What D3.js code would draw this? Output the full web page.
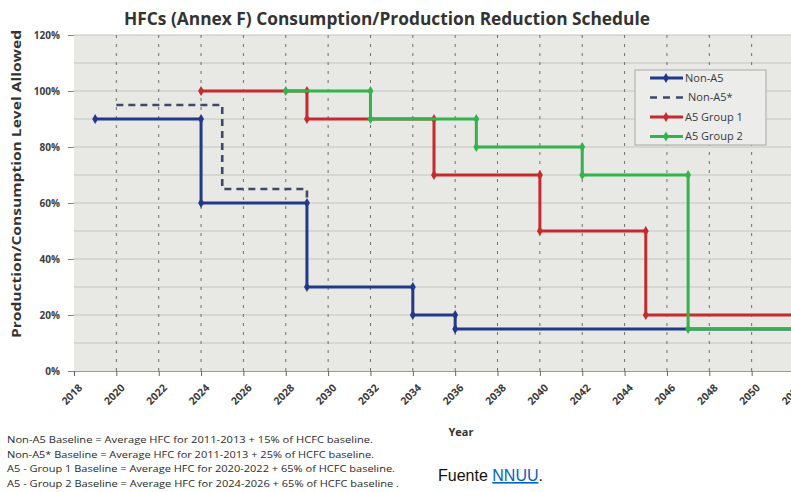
<!DOCTYPE html>
<html>
<head>
<meta charset="utf-8">
<script src="https://cdn.jsdelivr.net/npm/d3@7"></script>
<style>
  html, body { margin: 0; padding: 0; background: #fff; }
  svg { display: block; }
</style>
</head>
<body>
<svg id="chart" width="791" height="492"></svg>
<script>
// ---------- DATA ----------
const chartTitle = "HFCs (Annex F) Consumption/Production Reduction Schedule";
const yAxisTitle = "Production/Consumption Level Allowed";
const xAxisTitle = "Year";
const xTickYears = [2018, 2020, 2022, 2024, 2026, 2028, 2030, 2032, 2034, 2036, 2038, 2040, 2042, 2044, 2046, 2048, 2050, 2052];
const yTickValues = [0, 20, 40, 60, 80, 100, 120];
const yGridValues = [10, 20, 30, 40, 50, 60, 70, 80, 90, 100, 110, 120];

const seriesNames = ["Non-A5", "Non-A5*", "A5 Group 1", "A5 Group 2"];
const nonA5Years   = [2019, 2024, 2024, 2029, 2029, 2034, 2034, 2036, 2036, 2052];
const nonA5Values  = [90, 90, 60, 60, 30, 30, 20, 20, 15, 15];
const nonA5sYears  = [2020, 2025, 2025, 2029, 2029];
const nonA5sValues = [95, 95, 65, 65, 60];
const a5g1Years    = [2024, 2029, 2029, 2035, 2035, 2040, 2040, 2045, 2045, 2052];
const a5g1Values   = [100, 100, 90, 90, 70, 70, 50, 50, 20, 20];
const a5g2Years    = [2028, 2032, 2032, 2037, 2037, 2042, 2042, 2047, 2047, 2052];
const a5g2Values   = [100, 100, 90, 90, 80, 80, 70, 70, 15, 15];

const footnotes = [
  "Non-A5 Baseline =  Average HFC for 2011-2013 + 15% of HCFC baseline.",
  "Non-A5* Baseline = Average HFC for 2011-2013 + 25% of HCFC baseline.",
  "A5  - Group 1 Baseline = Average HFC for 2020-2022 + 65% of HCFC baseline.",
  "A5  - Group 2 Baseline = Average HFC for 2024-2026 + 65% of HCFC baseline ."
];
const footnoteWidths = [366, 367, 388, 392];

// ---------- LAYOUT ----------
const svg = d3.select("#chart");
const W = 791, H = 492;
const plot = { left: 74, right: 794, top: 35, bottom: 371 };
const x = d3.scaleLinear().domain([2018, 2052]).range([plot.left, plot.right]);
const y = d3.scaleLinear().domain([0, 120]).range([plot.bottom, plot.top]);

const series = [
  { name: seriesNames[0], years: nonA5Years,  values: nonA5Values,  color: "#22398a", dash: null, width: 3 },
  { name: seriesNames[1], years: nonA5sYears, values: nonA5sValues, color: "#3f4a68", dash: "7,5", width: 2.6 },
  { name: seriesNames[2], years: a5g1Years,   values: a5g1Values,   color: "#c62a2f", dash: null, width: 3 },
  { name: seriesNames[3], years: a5g2Years,   values: a5g2Values,   color: "#34b24c", dash: null, width: 3 }
];

const font = "'Open Sans', 'Liberation Sans', sans-serif";

// plot background
svg.append("rect")
  .attr("x", plot.left).attr("y", plot.top)
  .attr("width", W - plot.left).attr("height", plot.bottom - plot.top)
  .attr("fill", "#e8e8e5");

// horizontal gridlines
svg.append("g").selectAll("line").data(yGridValues).join("line")
  .attr("x1", plot.left).attr("x2", W)
  .attr("y1", d => y(d)).attr("y2", d => y(d))
  .attr("stroke", "#c4c4c0").attr("stroke-width", 1);

// vertical dotted gridlines
svg.append("g").selectAll("line").data(xTickYears.slice(1)).join("line")
  .attr("x1", d => x(d)).attr("x2", d => x(d))
  .attr("y1", plot.top).attr("y2", plot.bottom)
  .attr("stroke", "#6e6e6e").attr("stroke-width", 1)
  .attr("stroke-dasharray", "3,6");

// x axis
const xAxis = d3.axisBottom(x).tickValues(xTickYears).tickSize(5).tickFormat(d3.format("d"));
const gx = svg.append("g").attr("transform", `translate(0,${plot.bottom})`).call(xAxis);
gx.select(".domain").attr("stroke", "#9a9a9a").attr("stroke-width", 1.2);
gx.selectAll(".tick line").attr("stroke", "#666");
gx.selectAll(".tick text")
  .attr("font-family", font).attr("font-size", 10.5).attr("font-weight", "bold").attr("fill", "#3a3a3a")
  .attr("text-anchor", "end")
  .attr("transform", "translate(6,15) rotate(-45)")
  .attr("dy", "0.35em").attr("y", 0).attr("x", 0);

// y axis
const yAxis = d3.axisLeft(y).tickValues(yTickValues).tickSize(6).tickFormat(d => d + "%");
const gy = svg.append("g").attr("transform", `translate(${plot.left},0)`).call(yAxis);
gy.select(".domain").remove();
gy.selectAll(".tick line").attr("stroke", "#888");
gy.selectAll(".tick text")
  .attr("font-family", font).attr("font-size", 10).attr("font-weight", "bold").attr("fill", "#404040")
  .attr("x", -14);

// lines
const line = d3.line().x(d => x(d[0])).y(d => y(d[1]));
const clip = svg.append("clipPath").attr("id", "clip").append("rect")
  .attr("x", 0).attr("y", 0).attr("width", W).attr("height", H);
const lg = svg.append("g").attr("clip-path", "url(#clip)");
const diamond = d3.symbol().type(d3.symbolDiamond).size(30);

series.forEach(s => {
  const pts = s.years.map((yr, i) => [yr, s.values[i]]);
  lg.append("path").datum(pts)
    .attr("d", line)
    .attr("fill", "none")
    .attr("stroke", s.color)
    .attr("stroke-width", s.width)
    .attr("stroke-dasharray", s.dash)
    .attr("stroke-linejoin", "miter");
  if (!s.dash) {
    lg.append("g").selectAll("path").data(pts).join("path")
      .attr("d", diamond)
      .attr("transform", d => `translate(${x(d[0])},${y(d[1])})`)
      .attr("fill", s.color);
  }
});

// legend
const leg = svg.append("g");
leg.append("rect").attr("x", 635).attr("y", 70).attr("width", 131).attr("height", 75)
  .attr("fill", "#ececea").attr("stroke", "#a8a8a8").attr("stroke-width", 1);
series.forEach((s, i) => {
  const ly = 78 + i * 19.5;
  leg.append("line").attr("x1", 650).attr("x2", 683).attr("y1", ly).attr("y2", ly)
    .attr("stroke", s.color).attr("stroke-width", s.width)
    .attr("stroke-dasharray", s.dash ? "7,6" : null);
  if (!s.dash) {
    leg.append("path").attr("d", diamond).attr("transform", `translate(666,${ly})`).attr("fill", s.color);
  }
  leg.append("text").attr("x", s.dash ? 688 : 685).attr("y", ly).attr("dy", "0.36em")
    .attr("font-family", font).attr("font-size", 11).attr("fill", "#3a3a3a")
    .text(s.name);
});

// title
svg.append("text").attr("x", 124).attr("y", 25)
  .attr("font-family", font).attr("font-size", 17).attr("font-weight", "bold").attr("fill", "#333")
  .attr("textLength", 526).attr("lengthAdjust", "spacingAndGlyphs")
  .text(chartTitle);

// y axis title
svg.append("text")
  .attr("transform", "translate(21,338) rotate(-90)")
  .attr("font-family", font).attr("font-size", 12).attr("font-weight", "bold").attr("fill", "#333")
  .attr("textLength", 308).attr("lengthAdjust", "spacingAndGlyphs")
  .text(yAxisTitle);

// x axis title
svg.append("text").attr("x", 461).attr("y", 436).attr("text-anchor", "middle")
  .attr("font-family", font).attr("font-size", 11).attr("font-weight", "bold").attr("fill", "#333")
  .text(xAxisTitle);

// footnotes
svg.append("g").selectAll("text").data(footnotes).join("text")
  .attr("x", 7).attr("y", (d, i) => 443 + i * 14.5)
  .attr("font-family", font).attr("font-size", 8.5).attr("fill", "#2a2a2a")
  .attr("textLength", (d, i) => footnoteWidths[i]).attr("lengthAdjust", "spacingAndGlyphs")
  .text(d => d);

// source
const src = svg.append("text").attr("x", 438).attr("y", 481)
  .attr("font-family", "'Liberation Sans', Arial, sans-serif").attr("font-size", 16).attr("fill", "#111");
src.append("tspan").text("Fuente ");
src.append("tspan").attr("fill", "#0563c1").attr("text-decoration", "underline").text("NNUU");
src.append("tspan").text(".");
</script>
</body>
</html>
